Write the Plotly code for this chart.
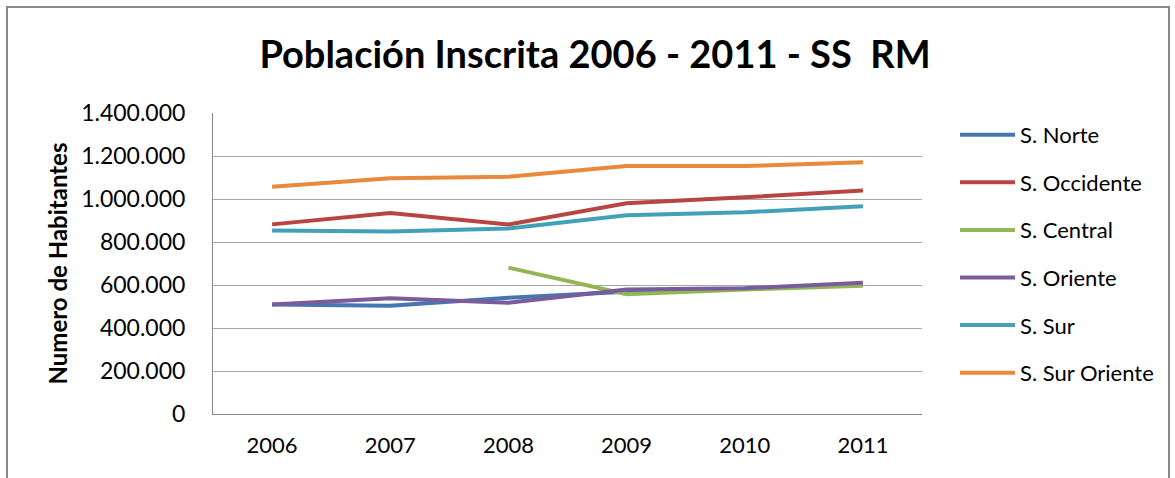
import plotly.graph_objects as go

years = ["2006", "2007", "2008", "2009", "2010", "2011"]

s_norte = [509000, 504000, 541000, 569000, 583000, 602000]
s_occidente = [882000, 935000, 882000, 980000, 1008000, 1040000]
s_central = [None, None, 681000, 557000, 579000, 597000]
s_oriente = [509000, 538000, 518000, 579000, 585000, 611000]
s_sur = [854000, 849000, 863000, 924000, 938000, 966000]
s_sur_oriente = [1057000, 1097000, 1104000, 1153000, 1153000, 1171000]

series = [
    ("S. Norte", s_norte, "#4677B3"),
    ("S. Occidente", s_occidente, "#B84542"),
    ("S. Central", s_central, "#93B655"),
    ("S. Oriente", s_oriente, "#7A5C9C"),
    ("S. Sur", s_sur, "#42A0B9"),
    ("S. Sur Oriente", s_sur_oriente, "#E8893C"),
]

FONT = "Lato"

fig = go.Figure()
for name, vals, color in series:
    fig.add_trace(go.Scatter(
        x=years, y=vals, name=name, mode="lines", legendgroup=name,
        line=dict(color=color, width=4), connectgaps=False,
    ))

fig.update_layout(
    width=1175, height=478,
    margin=dict(l=213, r=253, t=113, b=64, autoexpand=False),
    paper_bgcolor="white", plot_bgcolor="white",
    separators=",.",
    font=dict(family=FONT, color="#000000"),
    title=dict(
        text="<b>Población Inscrita 2006 - 2011 - SS  RM</b>",
        x=595 / 1175, xanchor="center", y=1 - 55 / 478, yanchor="middle",
        font=dict(size=38, family=FONT, color="#000000"),
    ),
    legend=dict(
        x=(955 - 213) / 709, xanchor="left", y=0.997, yanchor="top",
        font=dict(size=22, family=FONT),
        itemwidth=55, tracegroupgap=16, maxheight=420,
        bgcolor="rgba(0,0,0,0)",
    ),
    showlegend=True,
)

fig.update_xaxes(
    range=[-0.5, 5.5], automargin=False,
    showgrid=False, showline=True, linecolor="#888888", linewidth=1,
    ticks="", tickfont=dict(size=22, family=FONT), ticklabelstandoff=12,
)
fig.update_yaxes(
    range=[0, 1400000], dtick=200000, tickformat=",d", automargin=False,
    showgrid=True, gridcolor="#A6A6A6", gridwidth=1,
    showline=True, linecolor="#888888", linewidth=1,
    ticks="", tickfont=dict(size=23, family=FONT), ticklabelstandoff=22,
    title=dict(text="<b>Numero de Habitantes</b>", font=dict(size=24, family=FONT), standoff=6),
    zeroline=False,
)

# outer chart border
fig.add_shape(
    type="rect", xref="paper", yref="paper",
    x0=(7 - 213) / 709, x1=(1169 - 213) / 709,
    y0=(414 - 490) / 301, y1=(414 - 7) / 301,
    line=dict(color="#888888", width=2), fillcolor="rgba(0,0,0,0)", layer="below",
)

fig.write_html(
    "out.html",
    config={"displayModeBar": False},
    post_script="document.body.style.margin='0';",
)
